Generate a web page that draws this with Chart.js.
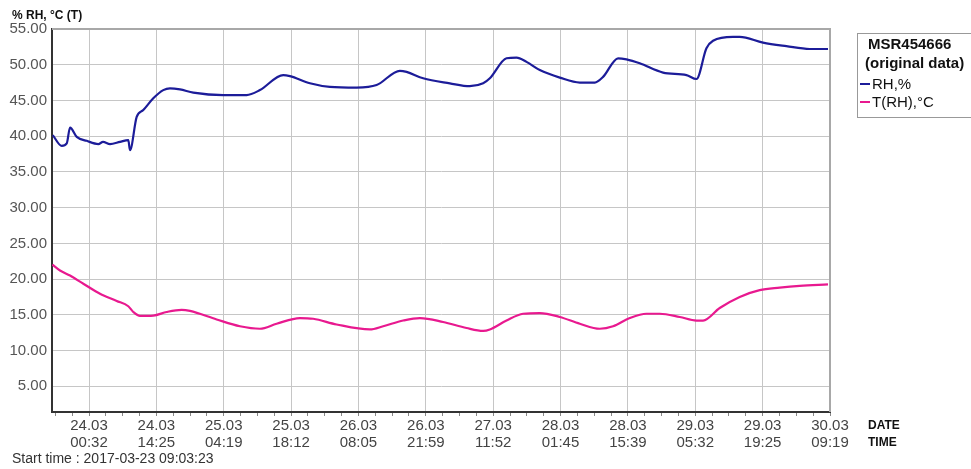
<!DOCTYPE html>
<html>
<head>
<meta charset="utf-8">
<script src="https://cdn.jsdelivr.net/npm/chart.js@4/dist/chart.umd.min.js"></script>
<style>
  html, body { margin: 0; padding: 0; background: #fff; }
  #wrap { width: 971px; height: 469px; }
</style>
</head>
<body>
<div id="wrap"><canvas id="logChart" width="971" height="469"></canvas></div>
<script>
// Hours since 23.03 00:00 for every reading
const rhHours = [17.05, 18.91, 19.94, 20.62, 22.0, 24.06, 26.45, 27.42, 28.86, 30.92, 32.63, 32.98, 34.36, 35.72, 37.78, 39.84, 41.22, 43.29, 46.03, 52.21, 57.03, 59.77, 64.58, 65.96, 70.08, 74.2, 79.7, 83.83, 88.63, 90.01, 93.43, 98.93, 103.05, 105.8, 107.18, 110.62, 112.68, 114.74, 117.48, 121.6, 125.73, 128.82, 130.53, 133.62, 135.35, 138.09, 142.89, 147.72, 149.78, 151.84, 153.2, 157.32, 158.7, 163.5, 168.33, 173.13, 176.9]
const rhValues = [40.15, 38.65, 39.0, 41.2, 39.9, 39.35, 38.9, 39.2, 38.9, 39.2, 39.45, 38.05, 42.7, 43.65, 45.3, 46.45, 46.7, 46.55, 46.1, 45.75, 45.75, 46.45, 48.55, 48.4, 47.4, 46.9, 46.8, 47.15, 49.15, 49.0, 48.1, 47.4, 47.0, 47.4, 48.1, 50.9, 51.0, 50.4, 49.25, 48.2, 47.5, 47.5, 48.3, 50.9, 50.75, 50.2, 48.9, 48.55, 48.0, 52.3, 53.35, 53.9, 53.9, 53.1, 52.6, 52.2, 52.2]

const tHours = [16.97, 18.55, 20.62, 23.36, 26.8, 30.24, 32.63, 33.66, 35.04, 37.78, 40.54, 43.64, 45.35, 50.85, 55.65, 59.77, 63.21, 68.02, 70.76, 75.58, 82.44, 85.19, 89.31, 92.75, 97.55, 102.37, 105.8, 107.18, 110.62, 114.04, 117.48, 121.6, 125.73, 129.85, 132.59, 136.03, 139.47, 142.21, 146.34, 149.78, 151.14, 154.58, 158.7, 162.82, 166.95, 171.07, 176.9]
const tValues = [22.03, 21.2, 20.5, 19.35, 17.95, 16.95, 16.2, 15.4, 14.85, 14.9, 15.4, 15.7, 15.55, 14.35, 13.4, 13.05, 13.75, 14.55, 14.45, 13.65, 12.95, 13.4, 14.2, 14.55, 14.0, 13.15, 12.75, 12.95, 14.2, 15.15, 15.25, 14.7, 13.75, 13.05, 13.4, 14.55, 15.15, 15.15, 14.7, 14.2, 14.2, 15.95, 17.5, 18.45, 18.8, 19.05, 19.25]

// Labelled positions on the time axis
const tickHours = [24.533, 38.417, 52.317, 66.2, 80.083, 93.983, 107.867, 121.75, 135.65, 149.533, 163.417, 177.317]
const tickDates = ['24.03', '24.03', '25.03', '25.03', '26.03', '26.03', '27.03', '28.03', '28.03', '29.03', '29.03', '30.03']
const tickTimes = ['00:32', '14:25', '04:19', '18:12', '08:05', '21:59', '11:52', '01:45', '15:39', '05:32', '19:25', '09:19']
const yTicks = [5, 10, 15, 20, 25, 30, 35, 40, 45, 50, 55]

const deviceName = 'MSR454666'
const deviceNote = '(original data)'
const startTime = 'Start time : 2017-03-23 09:03:23'

const FONT = '"Liberation Sans", Arial, sans-serif'

const toPoints = (xs, ys) => xs.map((x, i) => ({ x: x, y: ys[i] }))

// Major ticks plus three unlabelled ones between each pair
const buildTimeTicks = (min) => {
    const step = (tickHours[tickHours.length - 1] - tickHours[0]) / (tickHours.length - 1)
    const ticks = []
    for (let v = tickHours[0] - step / 4; v > min; v -= step / 4) ticks.unshift({ value: v })
    tickHours.forEach((h, i) => {
        ticks.push({ value: h, major: true, idx: i })
        if (i < tickHours.length - 1) {
            for (let k = 1; k < 4; k++) ticks.push({ value: h + step * k / 4 })
        }
    })
    return ticks
}

// Frame, legend box and the loose captions around the plot
const extrasPlugin = {
    id: 'extras',
    afterDraw(chart) {
        const ctx = chart.ctx
        const a = chart.chartArea
        ctx.save()

        ctx.strokeStyle = '#a8a8a8'
        ctx.lineWidth = 2
        ctx.beginPath()
        ctx.moveTo(a.left, a.top)
        ctx.lineTo(a.right, a.top)
        ctx.lineTo(a.right, a.bottom)
        ctx.stroke()

        ctx.fillStyle = '#111'
        ctx.textBaseline = 'middle'
        ctx.textAlign = 'left'
        ctx.font = 'bold 12px ' + FONT
        ctx.fillText('% RH, °C (T)', 12, 16)

        ctx.font = 'bold 12px ' + FONT
        ctx.fillText('DATE', 868, 426)
        ctx.fillText('TIME', 868, 443)

        ctx.fillStyle = '#333'
        ctx.font = '14px ' + FONT
        ctx.fillText(startTime, 12, 459)

        // legend
        ctx.strokeStyle = '#999'
        ctx.lineWidth = 1
        ctx.strokeRect(857.5, 33.5, 130, 84)
        ctx.fillStyle = '#111'
        ctx.font = 'bold 15px ' + FONT
        ctx.fillText(deviceName, 868, 45)
        ctx.fillText(deviceNote, 865, 64)
        ctx.font = '15px ' + FONT
        chart.data.datasets.forEach((ds, i) => {
            const y = 84 + i * 18
            ctx.strokeStyle = ds.borderColor
            ctx.lineWidth = 2
            ctx.beginPath()
            ctx.moveTo(860, y)
            ctx.lineTo(870, y)
            ctx.stroke()
            ctx.fillStyle = '#111'
            ctx.fillText(ds.label, 872, y + 1)
        })
        ctx.restore()
    }
}

const xMin = 16.9
const xMax = 177.317

new Chart(document.getElementById('logChart').getContext('2d'), {
    type: 'line',
    data: {
        datasets: [
            {
                label: 'RH,%',
                data: toPoints(rhHours, rhValues),
                borderColor: '#1c1c99',
                borderWidth: 2.2,
                pointRadius: 0,
                tension: 0.3,
                cubicInterpolationMode: 'monotone'
            },
            {
                label: 'T(RH),°C',
                data: toPoints(tHours, tValues),
                borderColor: '#e8198f',
                borderWidth: 2.2,
                pointRadius: 0,
                tension: 0.3,
                cubicInterpolationMode: 'monotone'
            }
        ]
    },
    options: {
        responsive: false,
        animation: false,
        layout: { padding: { top: 29, right: 141, left: 0, bottom: 0 } },
        plugins: {
            legend: { display: false },
            tooltip: { enabled: false }
        },
        scales: {
            x: {
                type: 'linear',
                min: xMin,
                max: xMax,
                afterBuildTicks: scale => { scale.ticks = buildTimeTicks(xMin) },
                afterFit: scale => { scale.height = 57 },
                ticks: {
                    autoSkip: false,
                    maxRotation: 0,
                    padding: 2,
                    color: '#444',
                    font: { family: FONT, size: 15, lineHeight: 1.1 },
                    callback: (value, index, ticks) => {
                        const t = ticks[index]
                        return t && t.major ? [tickDates[t.idx], tickTimes[t.idx]] : ''
                    }
                },
                grid: {
                    color: c => (c.tick && c.tick.major ? '#c6c6c6' : 'transparent'),
                    tickColor: '#888',
                    tickLength: 4,
                    lineWidth: 1
                },
                border: { color: '#333', width: 2 }
            },
            y: {
                min: 1.4,
                max: 55,
                afterBuildTicks: scale => { scale.ticks = yTicks.map(v => ({ value: v })) },
                afterFit: scale => { scale.width = 52 },
                ticks: {
                    padding: 5,
                    color: '#555',
                    font: { family: FONT, size: 15 },
                    callback: v => v.toFixed(2)
                },
                grid: { color: '#c6c6c6', lineWidth: 1, drawTicks: false },
                border: { color: '#333', width: 2 }
            }
        }
    },
    plugins: [extrasPlugin]
})
</script>
</body>
</html>
